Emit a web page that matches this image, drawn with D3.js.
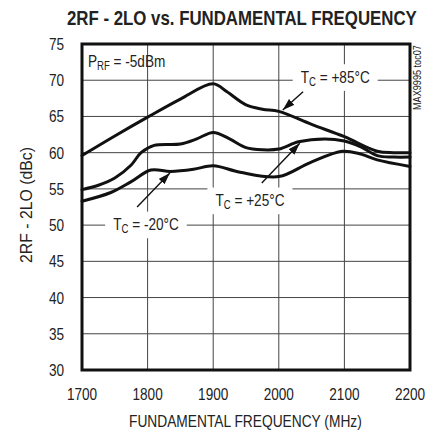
<!DOCTYPE html>
<html><head><meta charset="utf-8">
<script src="https://cdn.jsdelivr.net/npm/d3@7"></script>
<style>
body{margin:0;background:#fff;}
svg text{font-family:"Liberation Sans",Arial,sans-serif;fill:#222;}
</style></head>
<body><svg id="c" width="427" height="435"></svg>
<script>
// ---- data ----
const xTicks = [1700, 1800, 1900, 2000, 2100, 2200];
const yTicks = [30, 35, 40, 45, 50, 55, 60, 65, 70, 75];
const freq85 = [1700,1750,1800,1850,1900,1921,1950,1975,2000,2050,2100,2150,2175,2200];
const val85  = [59.6,62.3,64.9,67.4,69.5,68.4,66.6,66.0,65.7,63.9,62.2,60.2,60.0,60.0];
const freq25 = [1700,1725,1750,1775,1790,1810,1850,1875,1900,1925,1950,1975,2000,2030,2070,2100,2125,2150,2175,2200];
const val25  = [54.9,55.5,56.5,58.3,60.0,61.0,61.2,61.9,62.8,61.9,60.7,60.4,60.5,61.5,61.9,61.6,60.8,59.6,59.4,59.4];
const freqM20 = [1700,1744,1775,1805,1835,1870,1900,1941,2000,2047,2097,2125,2150,2200];
const valM20  = [53.3,54.5,56.0,57.6,57.4,57.7,58.2,57.3,56.7,58.6,60.2,59.8,59.0,58.1];
const title = "2RF - 2LO vs. FUNDAMENTAL FREQUENCY";
const xTitle = "FUNDAMENTAL FREQUENCY (MHz)";
const yTitle = "2RF - 2LO (dBc)";
const noteText = ["P", "RF", " = -5dBm"];
const tocText = "MAX9995 toc07";
// annotations in data coordinates: label position, arrow tail, arrow head
const labelMain = ["T", "T", "T"];
const labelSub = ["C", "C", "C"];
const labelRest = [" = +85°C", " = +25°C", " = -20°C"];
const labelPos = [[2086, 69.66], [1956, 52.64], [1797.5, 49.32]];
const arrowTail = [[2037, 68.4], [1974, 55.8], [1784, 52.5]];
const arrowHead = [[2006, 65.9], [2032, 61.3], [1834, 57.2]];

// ---- chart ----
const svg = d3.select("#c");
const x = d3.scaleLinear().domain([1700, 2200]).range([82, 410]);
const y = d3.scaleLinear().domain([30, 75]).range([370, 44]);
const SX = 0.8;
function ntext(parent, px, py, anchor, size) {
  return parent.append("text")
    .attr("transform", `translate(${px},${py}) scale(${SX},1)`)
    .attr("text-anchor", anchor).attr("font-size", size);
}
// text squeezed horizontally to a target width
function fitText(parent, px, py, rot, width, size, str) {
  const t = parent.append("text").attr("font-size", size).text(str);
  const w = t.node().getComputedTextLength();
  t.attr("transform", `translate(${px},${py}) rotate(${rot}) scale(${width / w},1)`);
  return t;
}

fitText(svg, 67, 25, 0, 350, 20, title).attr("font-weight", "bold");
// re-fit after bold
(function () {
  const t = svg.select("text");
  const w = t.node().getComputedTextLength();
  t.attr("transform", `translate(67,25) scale(${350 / w},1)`);
})();

// grid
const g = svg.append("g");
g.selectAll(".gx").data(xTicks.slice(1, -1)).join("line")
  .attr("x1", d => x(d)).attr("x2", d => x(d)).attr("y1", y(30)).attr("y2", y(75))
  .attr("stroke", "#444").attr("stroke-width", 1);
g.selectAll(".gy").data(yTicks.slice(1, -1)).join("line")
  .attr("y1", d => y(d)).attr("y2", d => y(d)).attr("x1", x(1700)).attr("x2", x(2200))
  .attr("stroke", "#444").attr("stroke-width", 1);

// tick labels
xTicks.forEach(t => ntext(svg, x(t), y(30) + 30, "middle", 17).text(t));
yTicks.forEach(t => ntext(svg, x(1700) - 18, y(t) + 6, "end", 17).text(t));

fitText(svg, 129, 427, 0, 233, 17, xTitle);
fitText(svg, 32, 263, -90, 116, 17, yTitle);
fitText(svg, 421, 110, -90, 65, 10, tocText).attr("fill", "#333");

// P_RF note
const note = ntext(svg, x(1709), y(71.87), "start", 17);
note.append("tspan").text(noteText[0]);
note.append("tspan").attr("font-size", 12).attr("dy", 3).text(noteText[1]);
note.append("tspan").attr("dy", -3).text(noteText[2]);

// labels with white background
const labels = svg.append("g");
labelPos.forEach((p, i) => {
  const t = ntext(labels, x(p[0]), y(p[1]), "middle", 17);
  t.append("tspan").text(labelMain[i]);
  t.append("tspan").attr("font-size", 12).attr("dy", 3).text(labelSub[i]);
  t.append("tspan").attr("dy", -3).text(labelRest[i]);
  const b = t.node().getBBox();
  const w = b.width * SX;
  labels.insert("rect", "text").attr("x", x(p[0]) + b.x * SX - 8).attr("y", y(p[1]) + b.y - 3)
    .attr("width", w + 16).attr("height", b.height + 6).attr("fill", "#fff");
});

// curves
const line = d3.line().x(d => x(d[0])).y(d => y(d[1])).curve(d3.curveCatmullRom.alpha(0.5));
const series = [d3.zip(freq85, val85), d3.zip(freq25, val25), d3.zip(freqM20, valM20)];
svg.append("g").selectAll("path").data(series).join("path")
  .attr("d", line).attr("fill", "none").attr("stroke", "#111").attr("stroke-width", 3)
  .attr("stroke-linejoin", "round").attr("stroke-linecap", "round");

// arrows
svg.append("defs").append("marker").attr("id", "ah").attr("viewBox", "0 0 12 8")
  .attr("refX", 12).attr("refY", 4).attr("markerWidth", 12).attr("markerHeight", 8)
  .attr("markerUnits", "userSpaceOnUse").attr("orient", "auto")
  .append("path").attr("d", "M0,0 L12,4 L0,8 Z").attr("fill", "#111");
svg.append("g").selectAll("line").data(d3.range(arrowTail.length)).join("line")
  .attr("x1", i => x(arrowTail[i][0])).attr("y1", i => y(arrowTail[i][1]))
  .attr("x2", i => x(arrowHead[i][0])).attr("y2", i => y(arrowHead[i][1]))
  .attr("stroke", "#111").attr("stroke-width", 1.4).attr("marker-end", "url(#ah)");

// frame
svg.append("rect").attr("x", x(1700)).attr("y", y(75)).attr("width", x(2200) - x(1700))
  .attr("height", y(30) - y(75)).attr("fill", "none").attr("stroke", "#111").attr("stroke-width", 3);
</script></body></html>
